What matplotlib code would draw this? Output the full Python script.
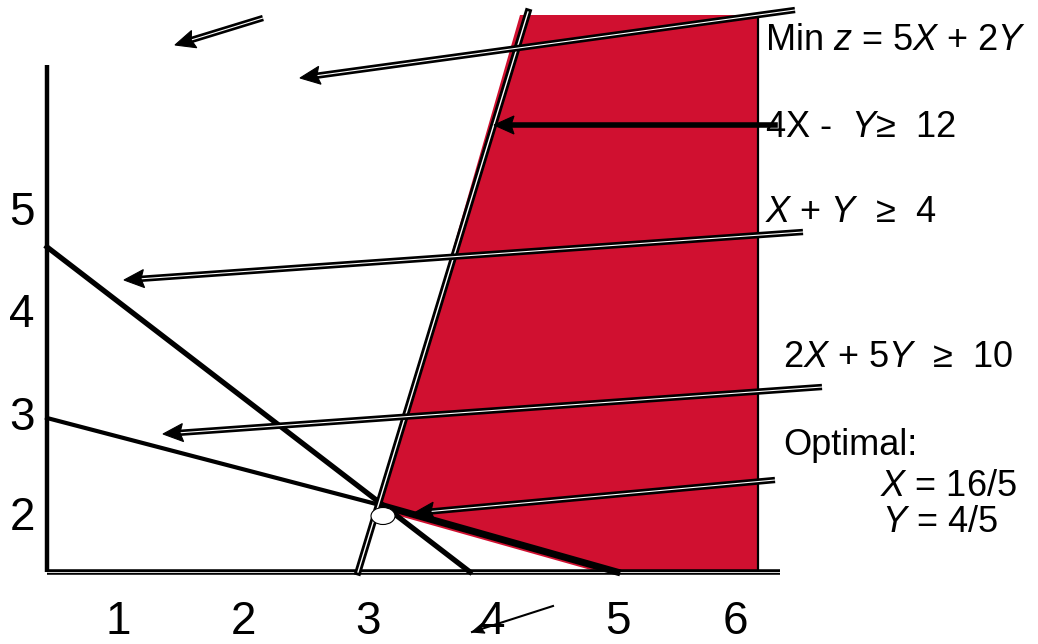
import numpy as np
import matplotlib
matplotlib.use("Agg")
import matplotlib.pyplot as plt
from matplotlib.patches import Polygon, Ellipse

plt.rcParams['font.family'] = ['Liberation Sans', 'DejaVu Sans']
plt.rcParams['mathtext.fontset'] = 'custom'
plt.rcParams['mathtext.rm'] = 'Liberation Sans'
plt.rcParams['mathtext.it'] = 'Liberation Sans:italic'

# diagram geometry (drawing units = pixels of the slide)
y_axis_x = [47, 47]
y_axis_y = [65, 572]
x_axis_x = [47, 780]
x_axis_y = [572, 572]

line_xy4_x = [47, 470]          # X + Y >= 4
line_xy4_y = [247, 572]
line_2x5y_x = [47, 380, 617]    # 2X + 5Y >= 10
line_2x5y_y = [418, 505, 572]
line_4xy_x = [358, 528]         # 4X - Y >= 12
line_4xy_y = [572, 12]

feasible_x = [378, 520, 758, 758, 598]
feasible_y = [510, 15, 15, 572, 572]
edge_x = [758, 758]
edge_y = [15, 572]

optimum = (383, 516)

# arrows: tail -> head
arrow_tail_x = [263, 795, 803, 822, 775]
arrow_tail_y = [18, 10, 232, 387, 480]
arrow_head_x = [175, 300, 124, 163, 414]
arrow_head_y = [45, 78, 280, 434, 513]
solid_arrow = ([775, 494], [125, 125])
stray_arrow = ([553, 472], [606, 632])

x_ticks = ['1', '2', '3', '4', '5', '6']
x_tick_pos = [118, 243, 368, 493, 618, 735]
y_ticks = ['5', '4', '3', '2']
y_tick_pos = [213, 315, 418, 518]

red = '#D01030'

fig = plt.figure(figsize=(10.38, 6.44), dpi=100)
ax = fig.add_axes([0, 0, 1, 1])
ax.set_xlim(0, 1038)
ax.set_ylim(644, 0)
ax.axis('off')

ax.add_patch(Polygon(np.column_stack([feasible_x, feasible_y]), closed=True,
                     facecolor=red, edgecolor='none', zorder=1))
ax.plot(edge_x, edge_y, color='black', lw=1.6, zorder=2)

# axes
ax.plot(y_axis_x, y_axis_y, color='black', lw=3.2, solid_capstyle='butt', zorder=3)
ax.plot(x_axis_x, x_axis_y, color='black', lw=4, solid_capstyle='butt', zorder=3)
ax.plot(x_axis_x, x_axis_y, color='white', lw=0.6, zorder=3)


def head(x0, y0, x1, y1, length=20, half=9):
    d = np.array([x1 - x0, y1 - y0], dtype=float)
    d /= np.hypot(*d)
    n = np.array([-d[1], d[0]])
    tip = np.array([x1, y1])
    base = tip - d * length
    pts = [tip, base + n * half, tip - d * length * 0.85, base - n * half]
    ax.add_patch(Polygon(pts, closed=True, facecolor='black', edgecolor='black', lw=0.8, zorder=6))
    return tip - d * length * 0.8


# constraint lines
ax.plot(line_xy4_x, line_xy4_y, color='black', lw=3.8, zorder=4)
ax.plot(line_2x5y_x[:2], line_2x5y_y[:2], color='black', lw=3.0, zorder=4)
ax.plot(line_2x5y_x[1:], line_2x5y_y[1:], color='black', lw=5.0, zorder=4)
ax.plot(line_4xy_x, line_4xy_y, color='black', lw=5.0, zorder=4)
ax.plot(line_4xy_x, line_4xy_y, color='white', lw=1.0, zorder=4)

ax.add_patch(Ellipse(optimum, 24, 17, facecolor='white', edgecolor='black', lw=0.8, zorder=5))

# double-line arrows
for tx, ty, hx, hy in zip(arrow_tail_x, arrow_tail_y, arrow_head_x, arrow_head_y):
    bx, by = head(tx, ty, hx, hy)
    ax.plot([tx, bx], [ty, by], color='black', lw=4.6, zorder=5, solid_capstyle='butt')
    ax.plot([tx, bx], [ty, by], color='white', lw=0.8, zorder=5)

bx, by = head(solid_arrow[0][0], solid_arrow[1][0], solid_arrow[0][1], solid_arrow[1][1])
ax.plot([solid_arrow[0][0], bx], [solid_arrow[1][0], by], color='black', lw=4.0, zorder=5)

ax.plot(stray_arrow[0], stray_arrow[1], color='black', lw=1.5, zorder=5)
head(stray_arrow[0][0], stray_arrow[1][0], stray_arrow[0][1], stray_arrow[1][1], length=12, half=5)

# tick labels
for lab, xp in zip(x_ticks, x_tick_pos):
    ax.text(xp, 622, lab, fontsize=33, ha='center', va='center')
for lab, yp in zip(y_ticks, y_tick_pos):
    ax.text(22, yp, lab, fontsize=33, ha='center', va='center')

# equations
fs = 26
ax.text(765, 40, r'Min $z$ = 5$X$ + 2$Y$', fontsize=fs, va='center', zorder=7)
ax.text(765, 127, r'4X -  $Y$≥  12', fontsize=fs, va='center', zorder=7)
ax.text(765, 212, r'$X$ + $Y$  ≥  4', fontsize=fs, va='center', zorder=7)
ax.text(783, 357, r'2$X$ + 5$Y$  ≥  10', fontsize=fs, va='center', zorder=7)
ax.text(783, 445, 'Optimal:', fontsize=fs, va='center', zorder=7)
ax.text(880, 486, r'$X$ = 16/5', fontsize=fs, va='center', zorder=7)
ax.text(882, 523, r'$Y$ = 4/5', fontsize=fs, va='center', zorder=7)

fig.savefig('out.png', dpi=100)
